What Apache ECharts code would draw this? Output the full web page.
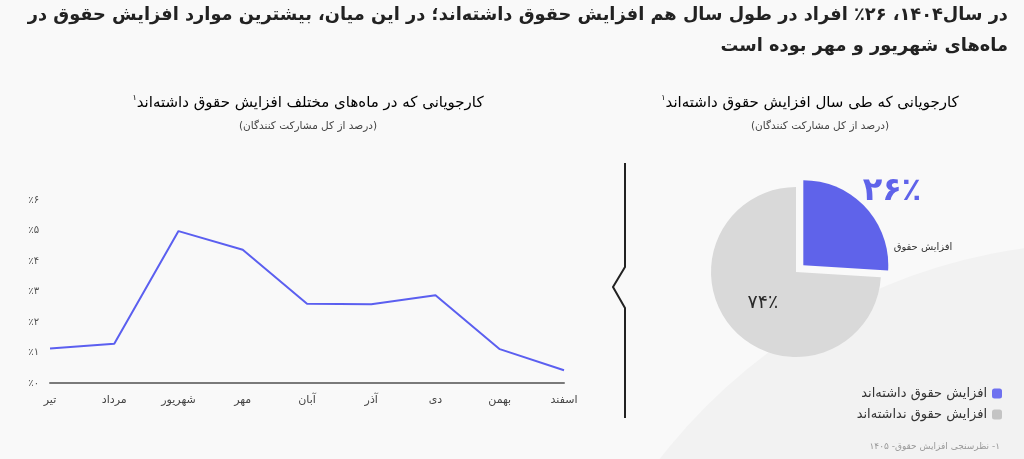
<!DOCTYPE html>
<html dir="rtl">
<head>
<meta charset="utf-8">
<script src="https://cdn.jsdelivr.net/npm/echarts@6/dist/echarts.min.js"></script>
<style>
html,body{margin:0;padding:0;background:#f9f9f9;}
#c{width:1024px;height:459px;}
</style>
</head>
<body>
<div id="c"></div>
<script>
// ---- data ----
const months = ['تیر', 'مرداد', 'شهریور', 'مهر', 'آبان', 'آذر', 'دی', 'بهمن', 'اسفند'];
const monthlyShare = [1.13, 1.29, 4.98, 4.37, 2.60, 2.58, 2.88, 1.11, 0.42];
const pieNames = ['افزایش حقوق داشته\u200cاند', 'افزایش حقوق نداشته\u200cاند'];
const pieValues = [26, 74];
const yAxisMax = 6;
const titleLines = [
  'در سال۱۴۰۴، ۲۶٪ افراد در طول سال هم افزایش حقوق داشته\u200cاند؛ در این میان، بیشترین موارد افزایش حقوق در',
  'ماه\u200cهای شهریور و مهر بوده است'
];
const leftTitle = 'کارجویانی که در ماه\u200cهای مختلف افزایش حقوق داشته\u200cاند';
const rightTitle = 'کارجویانی که طی سال افزایش حقوق داشته\u200cاند';
const subTitle = '(درصد از کل مشارکت کنندگان)';
const pieLabel = 'افزایش حقوق';
const footnote = '۱- نظرسنجی افزایش حقوق- ۱۴۰۵';

const fa = s => String(s).replace(/\d/g, d => '۰۱۲۳۴۵۶۷۸۹'[d]);
const FONT = "'DejaVu Sans', sans-serif";
const BLUE = '#5f63ea';
const GRAY = '#d9d9d9';

const chart = echarts.init(document.getElementById('c'), null, {renderer: 'canvas'});

const option = {
  backgroundColor: '#f9f9f9',
  textStyle: {fontFamily: FONT},
  animation: false,
  grid: {left: 50, right: 460, top: 200, bottom: 76, containLabel: false},
  xAxis: {
    type: 'category',
    data: months,
    boundaryGap: false,
    axisLine: {lineStyle: {color: '#7a7a7a', width: 2}},
    axisTick: {show: false},
    axisLabel: {color: '#444', fontSize: 11, margin: 12, fontFamily: FONT}
  },
  yAxis: {
    type: 'value',
    min: 0, max: yAxisMax, interval: 1,
    splitLine: {show: false},
    axisLine: {show: false},
    axisTick: {show: false},
    axisLabel: {color: '#505050', fontSize: 10, margin: 11, fontFamily: FONT,
      formatter: v => '٪' + fa(v)}
  },
  legend: {
    orient: 'vertical',
    right: 17, top: 382,
    align: 'right',
    itemWidth: 10, itemHeight: 10,
    itemGap: 8,
    icon: 'roundRect',
    selectedMode: false,
    textStyle: {color: '#333', fontSize: 13, fontFamily: FONT},
    data: [
      {name: pieNames[0], itemStyle: {color: '#6f71f0'}},
      {name: pieNames[1], itemStyle: {color: '#c4c4c4'}}
    ]
  },
  series: [
    {
      type: 'line',
      data: monthlyShare,
      showSymbol: false,
      lineStyle: {color: '#5b5ff0', width: 2},
      itemStyle: {color: '#5b5ff0'},
      emphasis: {disabled: true}
    },
    {
      type: 'pie',
      center: [796, 272],
      radius: 85,
      startAngle: 90,
      clockwise: true,
      selectedMode: 'single',
      selectedOffset: 10,
      emphasis: {disabled: true},
      labelLine: {show: false},
      data: [
        {name: pieNames[0], value: pieValues[0], selected: true,
          itemStyle: {color: BLUE}, label: {show: false},
          select: {itemStyle: {color: BLUE}}},
        {name: pieNames[1], value: pieValues[1],
          itemStyle: {color: GRAY},
          label: {show: true, position: 'inside', formatter: fa(pieValues[1]) + '٪',
            color: '#2a2a2a', fontSize: 19, fontFamily: FONT}}
      ]
    }
  ],
  graphic: [
    {type: 'circle', shape: {cx: 1100, cy: 800, r: 557}, style: {fill: '#f2f2f2'}, z: -10, silent: true},
    {type: 'text', x: 1008, y: 15, style: {text: titleLines[0], font: "bold 17.8px " + FONT, fill: '#222', align: 'right', verticalAlign: 'middle'}},
    {type: 'text', x: 1008, y: 46, style: {text: titleLines[1], font: "bold 17.8px " + FONT, fill: '#222', align: 'right', verticalAlign: 'middle'}},
    {type: 'text', x: 308, y: 103, style: {
      text: '{sup|۱}{t|' + leftTitle + '}', align: 'center', verticalAlign: 'middle',
      rich: {t: {fontSize: 15, fontFamily: FONT, color: '#333'},
             sup: {fontSize: 8, fontFamily: FONT, color: '#333', verticalAlign: 'top', padding: [0, 0, 10, 0]}}}},
    {type: 'text', x: 308, y: 126, style: {text: subTitle, font: "10.5px " + FONT, fill: '#444', align: 'center', verticalAlign: 'middle'}},
    {type: 'text', x: 810, y: 103, style: {
      text: '{sup|۱}{t|' + rightTitle + '}', align: 'center', verticalAlign: 'middle',
      rich: {t: {fontSize: 15, fontFamily: FONT, color: '#333'},
             sup: {fontSize: 8, fontFamily: FONT, color: '#333', verticalAlign: 'top', padding: [0, 0, 10, 0]}}}},
    {type: 'text', x: 820, y: 126, style: {text: subTitle, font: "10.5px " + FONT, fill: '#444', align: 'center', verticalAlign: 'middle'}},
    {type: 'polyline', shape: {points: [[625, 163], [625, 267], [613, 287], [625, 308], [625, 418]]},
      style: {stroke: '#222', lineWidth: 2, fill: null}},
    {type: 'text', x: 892, y: 192, style: {text: fa(pieValues[0]) + '٪', font: "bold 32px " + FONT, fill: BLUE, align: 'center', verticalAlign: 'middle'}},
    {type: 'text', x: 923, y: 247, style: {text: pieLabel, font: "10px " + FONT, fill: '#333', align: 'center', verticalAlign: 'middle'}},
    {type: 'text', x: 1000, y: 447, style: {text: footnote, font: "9px " + FONT, fill: '#999', align: 'right', verticalAlign: 'middle'}}
  ]
};
chart.setOption(option);
</script>
</body>
</html>
